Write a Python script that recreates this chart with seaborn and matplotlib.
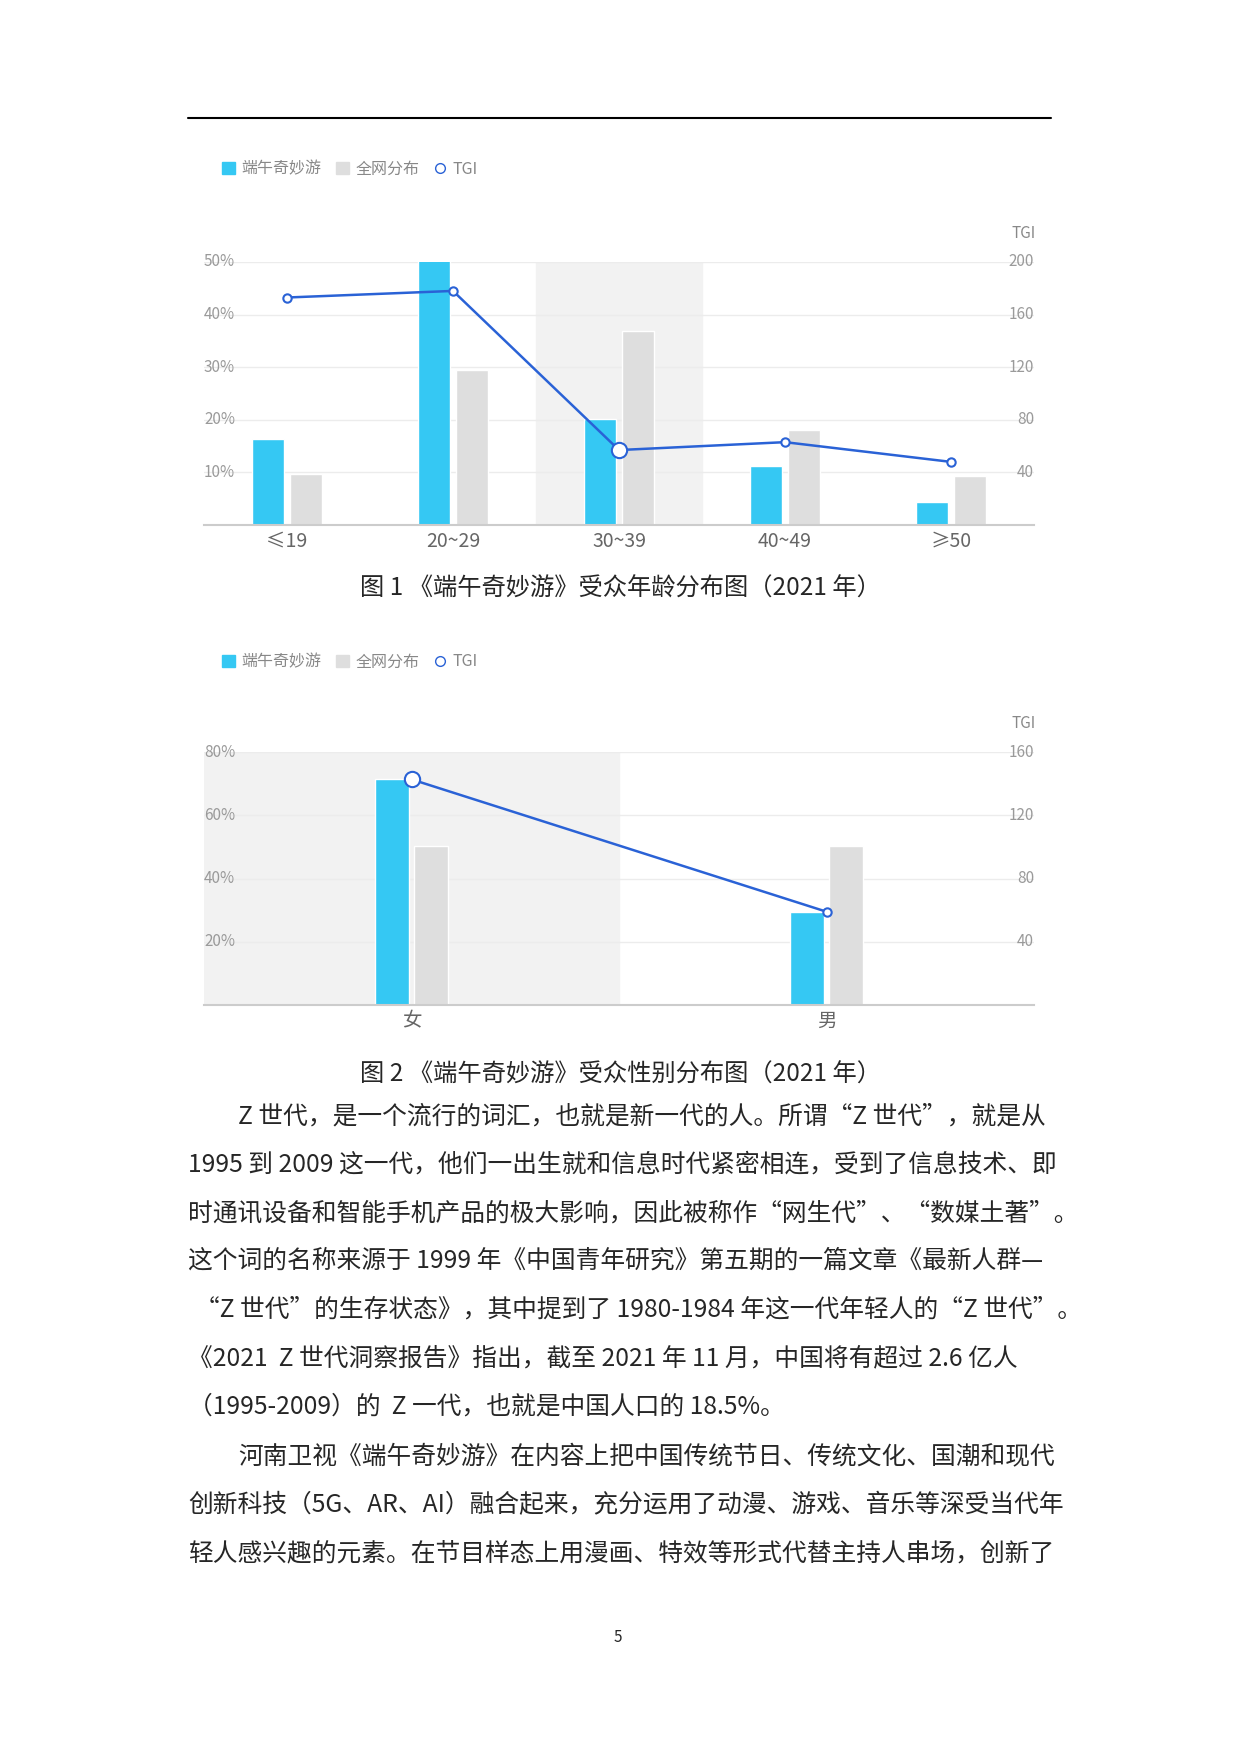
import matplotlib
matplotlib.use("Agg")
import matplotlib.pyplot as plt
import seaborn as sns
import pandas as pd
from matplotlib.lines import Line2D
from matplotlib.patches import Patch

sns.set_theme(style="white")
plt.rcParams['font.family'] = ['Noto Sans CJK SC', 'DejaVu Sans']

age_cats = ["≤19", "20~29", "30~39", "40~49", "≥50"]
age_show = [16.3, 51.0, 20.2, 11.2, 4.3]
age_all = [9.7, 29.5, 36.8, 18.1, 9.4]
age_tgi = [173, 178, 57, 63, 48]

sex_cats = ["女", "男"]
sex_show = [71.4, 29.5]
sex_all = [50.3, 50.3]
sex_tgi = [142.7, 59]

series = ["端午奇妙游", "全网分布"]
BLUE = "#35c8f3"; GREY = "#dedede"; LINE = "#2a62d6"
W, H = 1240, 1754
fig = plt.figure(figsize=(W/100, H/100), dpi=100)

def ax_rect(x0, y0, x1, y1):
    return fig.add_axes([x0/W, 1-y1/H, (x1-x0)/W, (y1-y0)/H])

def draw(rect, cats, show, allv, tgi, ymax, tmax, yticks, tticks, shade, bigidx, legy, width):
    ax = ax_rect(*rect)
    df = pd.DataFrame({"cat": cats*2, "val": show+allv,
                       "series": [series[0]]*len(cats)+[series[1]]*len(cats)})
    sns.barplot(data=df, x="cat", y="val", hue="series", order=cats,
                palette=[BLUE, GREY], width=width, gap=0.15, ax=ax, legend=False,
                saturation=1)
    ax.axvspan(shade-0.5, shade+0.5, color="#f2f2f2", zorder=0)
    ax.set_xlim(-0.5, len(cats)-0.5)
    ax.set_ylim(0, ymax)
    ax.set_yticks(yticks)
    ax.set_yticklabels([f"{t}%" for t in yticks], color="#9a9a9a", fontsize=11)
    for t in yticks:
        ax.axhline(t, color="#ececec", lw=1, zorder=0.5)
    ax.tick_params(axis='y', length=0, pad=0)
    for lab in ax.get_yticklabels():
        lab.set_horizontalalignment('left')
        lab.set_verticalalignment('center')
    ax.set_xlabel(""); ax.set_ylabel("")
    ax.tick_params(axis='x', length=0, labelsize=14, labelcolor="#666666", pad=4)
    for s in ["top", "right", "left"]:
        ax.spines[s].set_visible(False)
    ax.spines["bottom"].set_color("#cccccc")
    ax.spines["bottom"].set_linewidth(1.5)
    ax2 = ax.twinx()
    ax2.set_ylim(0, tmax)
    xs = list(range(len(cats)))
    ax2.plot(xs, tgi, color=LINE, lw=1.8, zorder=5)
    for i, (x, v) in enumerate(zip(xs, tgi)):
        ms = 11 if i == bigidx else 6
        ax2.plot([x], [v], marker='o', ms=ms, mfc="white", mec=LINE, mew=1.5, zorder=6)
    ax2.set_yticks(tticks)
    ax2.set_yticklabels([str(t) for t in tticks], color="#9a9a9a", fontsize=11)
    ax2.tick_params(axis='y', length=0, pad=0)
    for lab in ax2.get_yticklabels():
        lab.set_horizontalalignment('right')
        lab.set_verticalalignment('center')
    for s in ["top", "right", "left", "bottom"]:
        ax2.spines[s].set_visible(False)
    fig.text(1036/W, 1-(rect[1]-28)/H, "TGI", ha="right", va="center", color="#888888", fontsize=11)
    handles = [Patch(color=BLUE), Patch(color=GREY),
               Line2D([], [], ls='none', marker='o', mfc='white', mec=LINE, ms=7)]
    fig.legend(handles, ["端午奇妙游", "全网分布", "TGI"], loc="center left",
               bbox_to_anchor=(208/W, 1-legy/H), ncol=3, frameon=False,
               fontsize=11.5, handlelength=0.8, handleheight=0.8, columnspacing=0.9,
               handletextpad=0.4, labelcolor="#888888")

fig.add_artist(Line2D([188/W, 1051/W], [1-118/H, 1-118/H], color="black", lw=1.5))
draw((204, 262, 1034, 525), age_cats, age_show, age_all, age_tgi, 50, 200,
     [10, 20, 30, 40, 50], [40, 80, 120, 160, 200], 2, 2, 169, 0.46)
fig.text(620/W, 1-589/H, "图 1 《端午奇妙游》受众年龄分布图（2021 年）", ha="center", va="center", fontsize=17.5)
draw((204, 752, 1034, 1005), sex_cats, sex_show, sex_all, sex_tgi, 80, 160,
     [20, 40, 60, 80], [40, 80, 120, 160], 0, 0, 662, 0.19)
fig.text(620/W, 1-1075/H, "图 2 《端午奇妙游》受众性别分布图（2021 年）", ha="center", va="center", fontsize=17.5)

lines = [
    (238, "Z 世代，是一个流行的词汇，也就是新一代的人。所谓“Z 世代”，就是从"),
    (188, "1995 到 2009 这一代，他们一出生就和信息时代紧密相连，受到了信息技术、即"),
    (188, "时通讯设备和智能手机产品的极大影响，因此被称作“网生代”、“数媒土著”。"),
    (188, "这个词的名称来源于 1999 年《中国青年研究》第五期的一篇文章《最新人群—"),
    (195, "“Z 世代”的生存状态》，其中提到了 1980-1984 年这一代年轻人的“Z 世代”。"),
    (188, "《2021  Z 世代洞察报告》指出，截至 2021 年 11 月，中国将有超过 2.6 亿人"),
    (188, "（1995-2009）的  Z 一代，也就是中国人口的 18.5%。"),
    (238, "河南卫视《端午奇妙游》在内容上把中国传统节日、传统文化、国潮和现代"),
    (188, "创新科技（5G、AR、AI）融合起来，充分运用了动漫、游戏、音乐等深受当代年"),
    (188, "轻人感兴趣的元素。在节目样态上用漫画、特效等形式代替主持人串场，创新了"),
]
ys = [1116, 1165, 1213, 1261, 1310, 1358, 1406, 1457, 1505, 1553]
for (x, t), y in zip(lines, ys):
    fig.text(x/W, 1-y/H, t, ha="left", va="center", fontsize=17.8)
fig.text(618/W, 1-1638/H, "5", ha="center", va="center", fontsize=11)
fig.savefig("out.png", dpi=100)
